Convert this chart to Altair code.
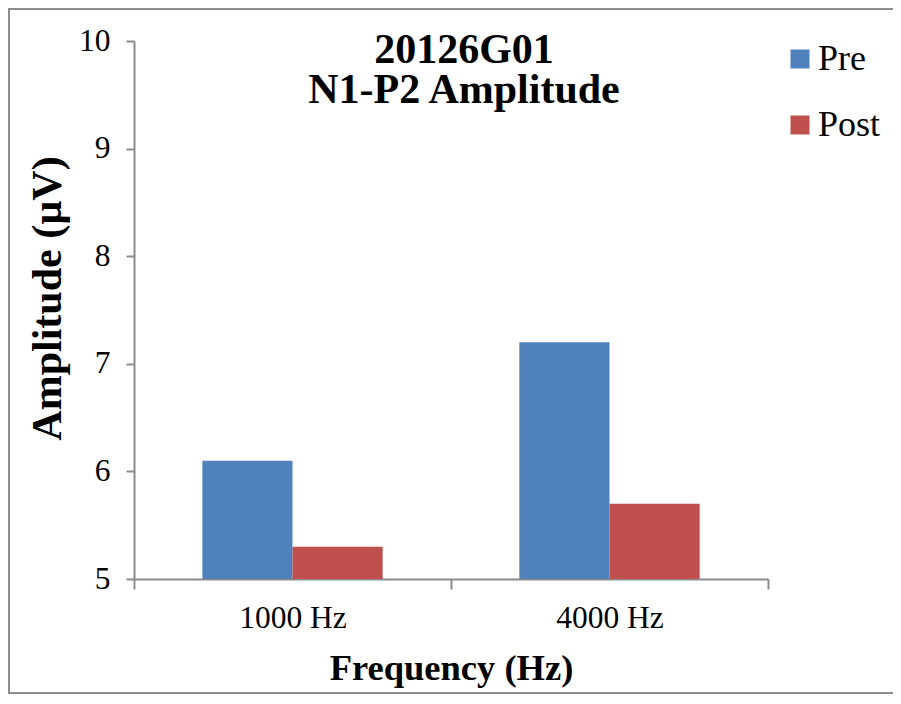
import altair as alt
import pandas as pd

categories = ["1000 Hz", "1000 Hz", "4000 Hz", "4000 Hz"]
series = ["Pre", "Post", "Pre", "Post"]
values = [6.1, 5.3, 7.2, 5.7]
y_ticks = [5, 6, 7, 8, 9, 10]
title_lines = ["20126G01", "N1-P2 Amplitude"]

df = pd.DataFrame({"freq": categories, "series": series, "amp": values})

FONT = "Liberation Serif"
GRAY = "#8c8c8c"
W, H = 634, 538

bars = alt.Chart(df).mark_bar().encode(
    x=alt.X("freq:N", title="Frequency (Hz)",
            scale=alt.Scale(paddingInner=0, paddingOuter=0),
            axis=alt.Axis(labelAngle=0, tickBand="extent", tickSize=10,
                          labelPadding=13, labelFontSize=31.5, labelFont=FONT,
                          titleFont=FONT, titleFontSize=36.5, titleFontWeight="bold",
                          titleBaseline="alphabetic", titleY=100,
                          domainColor=GRAY, domainWidth=2, tickColor=GRAY, tickWidth=2,
                          labelColor="black", titleColor="black")),
    xOffset=alt.XOffset("series:N", sort=["Pre", "Post"],
                        scale=alt.Scale(paddingInner=0, paddingOuter=0.758)),
    y=alt.Y("amp:Q", title="Amplitude (µV)",
            scale=alt.Scale(domain=[5, 10], nice=False, zero=False),
            axis=alt.Axis(values=y_ticks, tickSize=8, labelPadding=16,
                          labelFontSize=31.5, labelFont=FONT, grid=False,
                          titleFont=FONT, titleFontSize=42, titleFontWeight="bold",
                          titleAngle=270, titleBaseline="alphabetic",
                          titleX=-74, titleY=257, titleAlign="center",
                          domainColor=GRAY, domainWidth=2, tickColor=GRAY, tickWidth=2,
                          labelColor="black", titleColor="black")),
    y2=alt.datum(5),
    color=alt.Color("series:N", sort=["Pre", "Post"],
                    scale=alt.Scale(domain=["Pre", "Post"], range=["#4F81BD", "#C0504D"]),
                    legend=alt.Legend(title=None, orient="none", legendX=648, legendY=0,
                                      symbolType="square", symbolSize=361,
                                      symbolStrokeWidth=0, labelFont=FONT,
                                      labelFontSize=36, labelOffset=0, rowPadding=30,
                                      padding=0, labelColor="black")),
)

one = pd.DataFrame({"k": [0]})
frame = alt.Chart(one).mark_rect(fill=None, stroke="#8c8c8c", strokeWidth=2).encode(
    x=alt.value(-125), x2=alt.value(900), y=alt.value(-32), y2=alt.value(652))

chart = alt.layer(frame, bars).properties(
    width=W, height=H,
    title=alt.TitleParams(title_lines, font=FONT, fontSize=42, fontWeight="bold",
                          anchor="middle", dx=13, dy=104, baseline="top", lineHeight=40,
                          offset=0, color="black"),
    autosize=alt.AutoSizeParams(type="none"),
    padding={"left": 126, "top": 33, "right": 125, "bottom": 117},
).configure(background="white").configure_view(stroke=None)

chart.save("out.html", embed_options={"renderer": "svg", "actions": False})
